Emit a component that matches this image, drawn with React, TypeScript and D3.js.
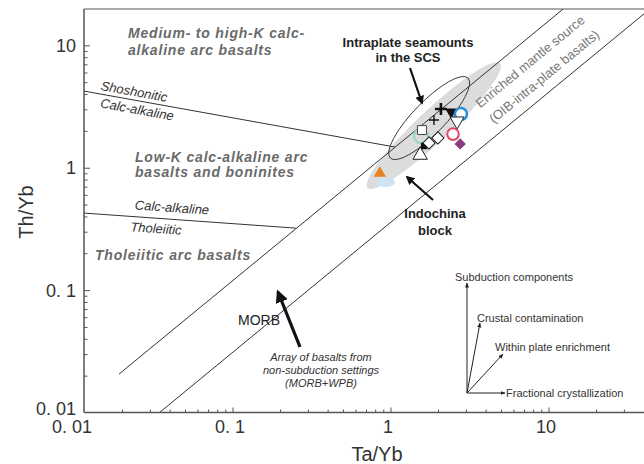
import * as d3 from "d3"

const xTicks = [0.01, 0.1, 1, 10]
const xTickLabels = ["0. 01", "0. 1", "1", "10"]
const yTicks = [0.01, 0.1, 1, 10]
const yTickLabels = ["0. 01", "0. 1", "1", "10"]

// boundary lines, Ta/Yb vs Th/Yb end points
const arrayUpperTa = [0.019, 12.3]
const arrayUpperTh = [0.0208, 20]
const arrayLowerTa = [0.034, 43.5]
const arrayLowerTh = [0.01, 20]
const shoshTa = [0.0114, 1.06]
const shoshTh = [4.27, 1.49]
const tholTa = [0.0114, 0.25]
const tholTh = [0.43, 0.324]

// shaded fields: ends of the long axis
const indochinaTa = [0.71, 4.9]
const indochinaTh = [0.69, 7.2]
const seamountTa = [0.99, 3.07]
const seamountTh = [1.21, 5.46]

// halos behind some symbols
const haloTa = [0.93, 1.55]
const haloTh = [0.77, 1.83]

// samples
const sampleTa = [0.85, 1.53, 1.62, 1.74, 1.98, 1.57, 1.87, 2.07, 2.4, 2.77, 2.62, 2.47, 2.74]
const sampleTh = [0.91, 1.28, 1.52, 1.61, 1.77, 2.05, 2.48, 3.05, 2.88, 2.77, 2.43, 1.9, 1.58]

const symbolStyles = [
  { shape: "triangle", fill: "#e8801e", stroke: "none", size: 65, rot: 0, sw: 1 },
  { shape: "triangle", fill: "#fff", stroke: "#222", size: 90, rot: 0, sw: 1 },
  { shape: "square", fill: "#111", stroke: "none", size: 40, rot: 0, sw: 1 },
  { shape: "square", fill: "#fff", stroke: "#222", size: 75, rot: 45, sw: 1 },
  { shape: "square", fill: "#fff", stroke: "#222", size: 75, rot: 45, sw: 1 },
  { shape: "square", fill: "#fff", stroke: "#444", size: 80, rot: 0, sw: 1 },
  { shape: "plus", fill: "none", stroke: "#111", size: 5, rot: 0, sw: 1.4 },
  { shape: "plus", fill: "none", stroke: "#111", size: 6, rot: 0, sw: 2.6 },
  { shape: "triangle", fill: "#111", stroke: "none", size: 60, rot: 180, sw: 1 },
  { shape: "circle", fill: "#fff", stroke: "#2a8fd6", size: 115, rot: 0, sw: 2.6 },
  { shape: "triangle", fill: "#fff", stroke: "#222", size: 85, rot: 180, sw: 1 },
  { shape: "circle", fill: "#fff", stroke: "#e04a66", size: 105, rot: 0, sw: 2 },
  { shape: "square", fill: "#8b3a7e", stroke: "none", size: 65, rot: 45, sw: 1 },
]

const W = 644
const H = 464
const left = 84
const right = 644
const top = 9
const bottom = 412.5

const x = d3.scaleLog().domain([0.01, 100]).range([75, 707])
const y = d3.scaleLog().domain([0.01, 20]).range([413, 9])

const line = (ta: number[], th: number[]) =>
  d3.line<number>().x(i => x(ta[i])).y(i => y(th[i]))([0, 1]) as string

function fieldEllipse(ta: number[], th: number[], ry: number) {
  const x0 = x(ta[0]), y0 = y(th[0]), x1 = x(ta[1]), y1 = y(th[1])
  const cx = (x0 + x1) / 2, cy = (y0 + y1) / 2
  const rx = Math.hypot(x1 - x0, y1 - y0) / 2
  const ang = (Math.atan2(y1 - y0, x1 - x0) * 180) / Math.PI
  return { cx, cy, rx, ry, ang }
}

function symbolPath(s: typeof symbolStyles[number]) {
  if (s.shape === "plus") return `M${-s.size},0H${s.size}M0,${-s.size}V${s.size}`
  const t = s.shape === "triangle" ? d3.symbolTriangle : s.shape === "square" ? d3.symbolSquare : d3.symbolCircle
  return d3.symbol().type(t).size(s.size)() as string
}

export default function App() {
  const minorX: number[] = []
  const minorY: number[] = []
  for (let e = -2; e <= 1; e++) {
    for (let m = 2; m <= 9; m++) {
      const v = m * Math.pow(10, e)
      if (x(v) > left && x(v) < right) minorX.push(v)
      if (v < 20) minorY.push(v)
    }
  }
  const indo = fieldEllipse(indochinaTa, indochinaTh, 16)
  const sea = fieldEllipse(seamountTa, seamountTh, 16)
  const lineSlope = (Math.atan2(y(arrayLowerTh[1]) - y(arrayLowerTh[0]), x(arrayLowerTa[1]) - x(arrayLowerTa[0])) * 180) / Math.PI
  const font = "Liberation Sans, Arial, sans-serif"
  const fieldLabel = { fontFamily: font, fontSize: 14, fontWeight: 700, fontStyle: "italic", fill: "#6a6a6a", letterSpacing: 0.8 } as const
  const lineLabel = { fontFamily: font, fontSize: 13, fontStyle: "italic", fill: "#333" } as const
  const vecLabel = { fontFamily: font, fontSize: 11, fill: "#333" } as const

  return (
    <svg width={W} height={H} style={{ position: "absolute", left: 0, top: 0, background: "#fff" }}>
      <defs>
        <clipPath id="plot">
          <rect x={left} y={top} width={right - left} height={bottom - top} />
        </clipPath>
        <marker id="bigHead" viewBox="0 0 10 10" refX="8" refY="5" markerWidth="4" markerHeight="4" orient="auto">
          <path d="M0,0L10,5L0,10Z" fill="#111" />
        </marker>
        <marker id="smallHead" viewBox="0 0 10 10" refX="9" refY="5" markerWidth="5" markerHeight="5" orient="auto">
          <path d="M0,1L10,5L0,9Z" fill="#222" />
        </marker>
      </defs>

      <g clipPath="url(#plot)">
        <ellipse cx={indo.cx} cy={indo.cy} rx={indo.rx} ry={indo.ry} transform={`rotate(${indo.ang},${indo.cx},${indo.cy})`} fill="#dcdcdc" />
        <path d={line(arrayUpperTa, arrayUpperTh)} stroke="#333" strokeWidth={1} fill="none" />
        <path d={line(arrayLowerTa, arrayLowerTh)} stroke="#333" strokeWidth={1} fill="none" />
        <path d={line(shoshTa, shoshTh)} stroke="#333" strokeWidth={1} fill="none" />
        <path d={line(tholTa, tholTh)} stroke="#333" strokeWidth={1} fill="none" />
        <ellipse cx={sea.cx} cy={sea.cy} rx={sea.rx} ry={sea.ry} transform={`rotate(${sea.ang},${sea.cx},${sea.cy})`} fill="none" stroke="#333" strokeWidth={0.9} />

        <ellipse cx={x(haloTa[0])} cy={y(haloTh[0])} rx={9} ry={5} fill="#cfe3f2" />
        <circle cx={x(haloTa[1])} cy={y(haloTh[1])} r={7} fill="none" stroke="#9fd8b8" strokeWidth={2.5} />

        {sampleTa.map((ta, i) => {
          const s = symbolStyles[i]
          return (
            <path key={i} d={symbolPath(s)} transform={`translate(${x(ta)},${y(sampleTh[i])}) rotate(${s.rot})`}
              fill={s.fill} stroke={s.stroke} strokeWidth={s.sw} />
          )
        })}
      </g>

      {/* frame */}
      <line x1={left} x2={left} y1={top} y2={bottom} stroke="#555" strokeWidth={1.5} />
      <line x1={left} x2={right} y1={bottom} y2={bottom} stroke="#555" strokeWidth={1.5} />
      <line x1={left} x2={right} y1={top} y2={top} stroke="#555" strokeWidth={1.2} />

      {xTicks.filter(v => x(v) > left).map(v => (
        <line key={v} x1={x(v)} x2={x(v)} y1={bottom} y2={bottom - 5} stroke="#555" />
      ))}
      {minorX.map(v => <line key={v} x1={x(v)} x2={x(v)} y1={bottom} y2={bottom - 3} stroke="#555" />)}
      {yTicks.filter(v => y(v) < bottom - 1).map(v => (
        <line key={v} x1={left} x2={left + 6} y1={y(v)} y2={y(v)} stroke="#555" />
      ))}
      {minorY.map(v => <line key={v} x1={left} x2={left + 3.5} y1={y(v)} y2={y(v)} stroke="#555" />)}

      {xTicks.map((v, i) => (
        <text key={v} x={x(v) - 3} y={433} textAnchor="middle" fontFamily={font} fontSize={18} fill="#333">{xTickLabels[i]}</text>
      ))}
      {yTicks.map((v, i) => (
        <text key={v} x={76} y={y(v) + (i === 0 ? 2 : 6)} textAnchor="end" fontFamily={font} fontSize={18} fill="#333">{yTickLabels[i]}</text>
      ))}
      <text x={377} y={461} textAnchor="middle" fontFamily={font} fontSize={20} fill="#333">Ta/Yb</text>
      <text transform="translate(33,212) rotate(-90)" textAnchor="middle" fontFamily={font} fontSize={20} fill="#333">Th/Yb</text>

      {/* field labels */}
      <text x={128} y={38} {...fieldLabel}>Medium- to high-K calc-</text>
      <text x={128} y={55} {...fieldLabel}>alkaline arc basalts</text>
      <text x={135} y={162} {...fieldLabel}>Low-K calc-alkaline arc</text>
      <text x={135} y={177} {...fieldLabel}>basalts and boninites</text>
      <text x={95} y={260} {...fieldLabel}>Tholeiitic arc basalts</text>

      <text x={134} y={96} textAnchor="middle" transform="rotate(10.2,134,92)" {...lineLabel}>Shoshonitic</text>
      <text x={137} y={114} textAnchor="middle" transform="rotate(10.2,137,110)" {...lineLabel}>Calc-alkaline</text>
      <text x={172} y={212} textAnchor="middle" transform="rotate(4,172,208)" {...lineLabel}>Calc-alkaline</text>
      <text x={156} y={233} textAnchor="middle" transform="rotate(4,156,229)" {...lineLabel}>Tholeiitic</text>

      <text x={408} y={47} textAnchor="middle" fontFamily={font} fontSize={13} fontWeight={700} fill="#222">Intraplate seamounts</text>
      <text x={408} y={62} textAnchor="middle" fontFamily={font} fontSize={13} fontWeight={700} fill="#222">in the SCS</text>
      <line x1={410} y1={68} x2={422} y2={103} stroke="#111" strokeWidth={2.2} markerEnd="url(#bigHead)" />

      <text x={435} y={218} textAnchor="middle" fontFamily={font} fontSize={13} fontWeight={700} fill="#222">Indochina</text>
      <text x={435} y={235} textAnchor="middle" fontFamily={font} fontSize={13} fontWeight={700} fill="#222">block</text>
      <line x1={433} y1={200} x2={407} y2={177} stroke="#111" strokeWidth={2.2} markerEnd="url(#bigHead)" />

      <g transform={`rotate(${lineSlope},533,65)`}>
        <text x={533} y={65} textAnchor="middle" fontFamily={font} fontSize={13} fill="#777">Enriched mantle source</text>
      </g>
      <g transform={`rotate(${lineSlope},547,80)`}>
        <text x={547} y={80} textAnchor="middle" fontFamily={font} fontSize={13} fill="#777">(OIB-intra-plate basalts)</text>
      </g>

      <text x={259} y={325} textAnchor="middle" fontFamily={font} fontSize={14} fill="#222">MORB</text>
      <line x1={300} y1={347} x2={278} y2={292} stroke="#111" strokeWidth={3.2} markerEnd="url(#bigHead)" />
      <text x={321} y={361} textAnchor="middle" fontFamily={font} fontSize={11} fontStyle="italic" fill="#333">Array of basalts from</text>
      <text x={321} y={374} textAnchor="middle" fontFamily={font} fontSize={11} fontStyle="italic" fill="#333">non-subduction settings</text>
      <text x={321} y={387} textAnchor="middle" fontFamily={font} fontSize={11} fontStyle="italic" fill="#333">(MORB+WPB)</text>

      {/* process vectors */}
      <line x1={467} y1={393} x2={467} y2={283} stroke="#222" strokeWidth={1} markerEnd="url(#smallHead)" />
      <line x1={467} y1={393} x2={480} y2={323} stroke="#222" strokeWidth={1} markerEnd="url(#smallHead)" />
      <line x1={467} y1={393} x2={503} y2={354} stroke="#222" strokeWidth={1} markerEnd="url(#smallHead)" />
      <line x1={467} y1={393} x2={505} y2={393} stroke="#222" strokeWidth={1} markerEnd="url(#smallHead)" />
      <text x={455} y={281} {...vecLabel}>Subduction components</text>
      <text x={477} y={322} {...vecLabel}>Crustal contamination</text>
      <text x={495} y={351} {...vecLabel}>Within plate enrichment</text>
      <text x={506} y={397} {...vecLabel}>Fractional crystallization</text>
    </svg>
  )
}
